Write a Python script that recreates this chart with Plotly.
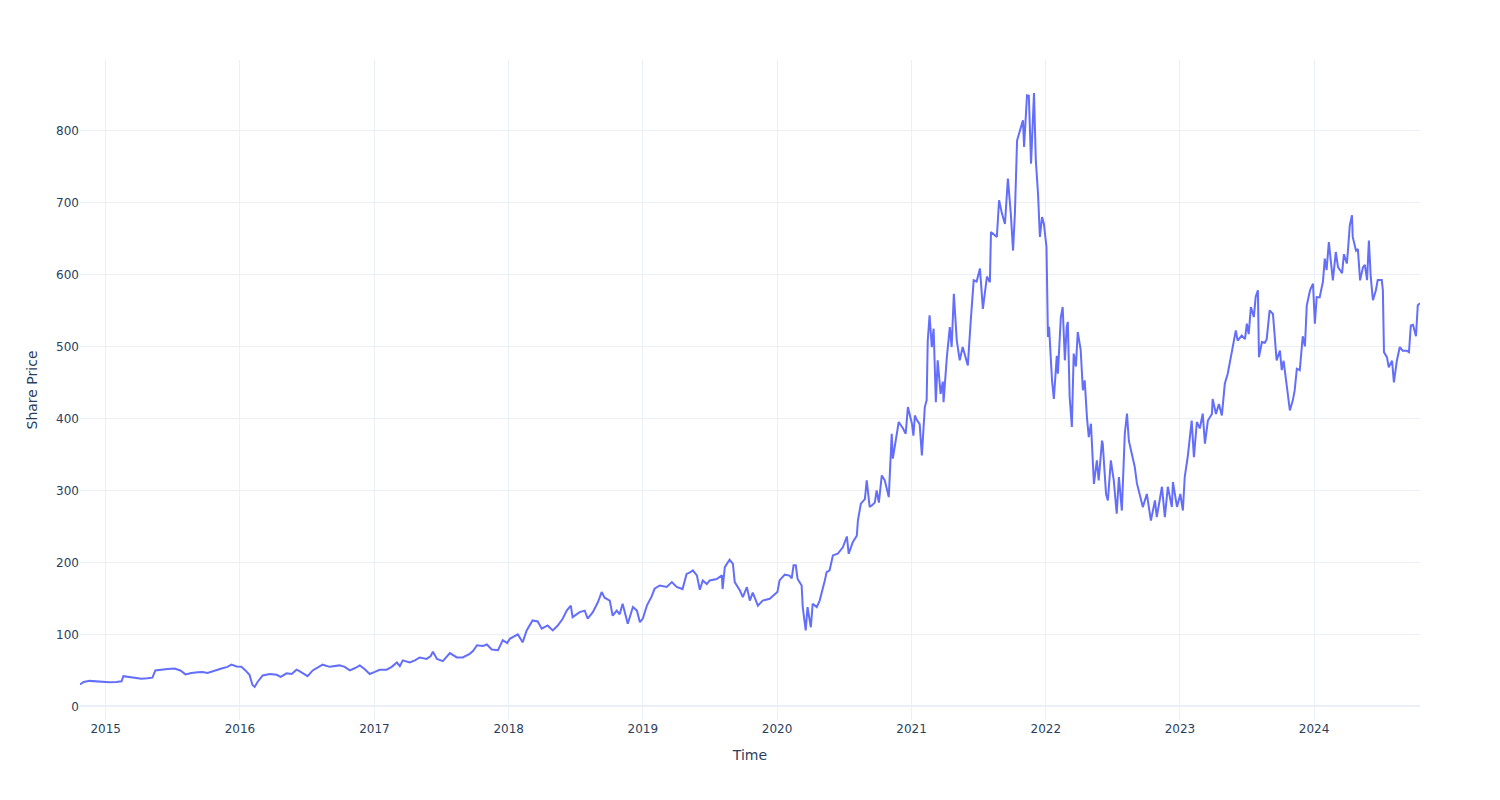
import plotly.graph_objects as go

dates = [
    "2014-10-23", "2014-11-02", "2014-11-18", "2014-12-07", "2014-12-26",
    "2015-01-11", "2015-01-30", "2015-02-13", "2015-02-18", "2015-03-07", "2015-03-23", "2015-04-08",
    "2015-04-24", "2015-05-08", "2015-05-16", "2015-06-02", "2015-06-18", "2015-07-07", "2015-07-23",
    "2015-08-06", "2015-08-22", "2015-09-08", "2015-09-21", "2015-10-05", "2015-10-24", "2015-11-12",
    "2015-11-28", "2015-12-09", "2015-12-23",
    "2016-01-05", "2016-01-16", "2016-01-27", "2016-02-04", "2016-02-10", "2016-02-18", "2016-03-03",
    "2016-03-22", "2016-04-10", "2016-04-21", "2016-05-07", "2016-05-21", "2016-06-03", "2016-06-11",
    "2016-06-22", "2016-07-03", "2016-07-17", "2016-07-31", "2016-08-13", "2016-09-01", "2016-09-15",
    "2016-09-28", "2016-10-12", "2016-10-26", "2016-11-08", "2016-11-22", "2016-12-05", "2016-12-19",
    "2017-01-02", "2017-01-15", "2017-02-03", "2017-02-17", "2017-03-03", "2017-03-11", "2017-03-19",
    "2017-04-07", "2017-04-21", "2017-05-04", "2017-05-23", "2017-06-03", "2017-06-09", "2017-06-20",
    "2017-07-06", "2017-07-25", "2017-08-13", "2017-08-29", "2017-09-17", "2017-09-26", "2017-10-07",
    "2017-10-23", "2017-11-03", "2017-11-16", "2017-12-03", "2017-12-16", "2017-12-28",
    "2018-01-04", "2018-01-26", "2018-02-08", "2018-02-19", "2018-03-07", "2018-03-21", "2018-04-01",
    "2018-04-17", "2018-05-01", "2018-05-14", "2018-05-28", "2018-06-08", "2018-06-19", "2018-06-24",
    "2018-07-13", "2018-07-27", "2018-08-04", "2018-08-18", "2018-09-01", "2018-09-11", "2018-09-19",
    "2018-10-03", "2018-10-11", "2018-10-22", "2018-10-30", "2018-11-07", "2018-11-21", "2018-12-05",
    "2018-12-16", "2018-12-24",
    "2019-01-01", "2019-01-12", "2019-01-25", "2019-02-02", "2019-02-16", "2019-03-07", "2019-03-21",
    "2019-04-03", "2019-04-19", "2019-04-30", "2019-05-09", "2019-05-17", "2019-05-28", "2019-06-05",
    "2019-06-13", "2019-06-24", "2019-07-02", "2019-07-21", "2019-08-04", "2019-08-06", "2019-08-12",
    "2019-08-25", "2019-09-03", "2019-09-08", "2019-09-22", "2019-09-30", "2019-10-11", "2019-10-19",
    "2019-10-27", "2019-11-10", "2019-11-23", "2019-12-12",
    "2020-01-02", "2020-01-08", "2020-01-22", "2020-02-04", "2020-02-10", "2020-02-15", "2020-02-21",
    "2020-02-26", "2020-03-08", "2020-03-11", "2020-03-19", "2020-03-24", "2020-04-02", "2020-04-07",
    "2020-04-18", "2020-04-26", "2020-05-04", "2020-05-10", "2020-05-15", "2020-05-23", "2020-06-01",
    "2020-06-14", "2020-06-28", "2020-07-09", "2020-07-14", "2020-07-25", "2020-08-05", "2020-08-08",
    "2020-08-16", "2020-08-27", "2020-09-01", "2020-09-09", "2020-09-17", "2020-09-23", "2020-09-28",
    "2020-10-04", "2020-10-12", "2020-10-20", "2020-10-31", "2020-11-08", "2020-11-11", "2020-11-19",
    "2020-11-27", "2020-12-08", "2020-12-16", "2020-12-22",
    "2021-01-02", "2021-01-06", "2021-01-10", "2021-01-15", "2021-01-23", "2021-01-29", "2021-02-06",
    "2021-02-11", "2021-02-14", "2021-02-19", "2021-02-25", "2021-03-02", "2021-03-08", "2021-03-13",
    "2021-03-21", "2021-03-27", "2021-03-29", "2021-04-07", "2021-04-15", "2021-04-20", "2021-04-26",
    "2021-05-04", "2021-05-12", "2021-05-20", "2021-06-03", "2021-06-11", "2021-06-19", "2021-06-27",
    "2021-07-06", "2021-07-14", "2021-07-25", "2021-08-02", "2021-08-05", "2021-08-21", "2021-08-27",
    "2021-09-04", "2021-09-12", "2021-09-20", "2021-09-28", "2021-10-04", "2021-10-09", "2021-10-15",
    "2021-10-23", "2021-10-31", "2021-11-03", "2021-11-11", "2021-11-16", "2021-11-22", "2021-11-30",
    "2021-12-05", "2021-12-11", "2021-12-16", "2021-12-22", "2021-12-27",
    "2022-01-03", "2022-01-05", "2022-01-07", "2022-01-10", "2022-01-18", "2022-01-23", "2022-01-31",
    "2022-02-03", "2022-02-11", "2022-02-16", "2022-02-22", "2022-02-27", "2022-03-02", "2022-03-07",
    "2022-03-13", "2022-03-18", "2022-03-24", "2022-03-29", "2022-04-06", "2022-04-12", "2022-04-17",
    "2022-04-23", "2022-04-28", "2022-05-04", "2022-05-09", "2022-05-12", "2022-05-20", "2022-05-25",
    "2022-06-03", "2022-06-05", "2022-06-14", "2022-06-19", "2022-06-27", "2022-07-05", "2022-07-13",
    "2022-07-19", "2022-07-27", "2022-08-04", "2022-08-10", "2022-08-15", "2022-08-23", "2022-08-31",
    "2022-09-06", "2022-09-14", "2022-09-22", "2022-10-03", "2022-10-14", "2022-10-25", "2022-10-30",
    "2022-11-13", "2022-11-21", "2022-11-29", "2022-12-10", "2022-12-13", "2022-12-24",
    "2023-01-02", "2023-01-09", "2023-01-14", "2023-01-22", "2023-02-02", "2023-02-08", "2023-02-16",
    "2023-02-24", "2023-03-04", "2023-03-10", "2023-03-18", "2023-03-29", "2023-03-31", "2023-04-09",
    "2023-04-17", "2023-04-25", "2023-04-28", "2023-05-03", "2023-05-11", "2023-05-19", "2023-05-25",
    "2023-06-02", "2023-06-07", "2023-06-18", "2023-06-27", "2023-07-02", "2023-07-07", "2023-07-13",
    "2023-07-21", "2023-07-26", "2023-08-01", "2023-08-04", "2023-08-12", "2023-08-20", "2023-08-25",
    "2023-09-02", "2023-09-11", "2023-09-16", "2023-09-21", "2023-09-30", "2023-10-05", "2023-10-10",
    "2023-10-16", "2023-10-21", "2023-10-27", "2023-11-04", "2023-11-09", "2023-11-15", "2023-11-23",
    "2023-12-01", "2023-12-07", "2023-12-12", "2023-12-21", "2023-12-29",
    "2024-01-03", "2024-01-08", "2024-01-16", "2024-01-25", "2024-01-30", "2024-02-04", "2024-02-10",
    "2024-02-21", "2024-02-29", "2024-03-06", "2024-03-17", "2024-03-22", "2024-03-30", "2024-04-02",
    "2024-04-07", "2024-04-13", "2024-04-15", "2024-04-24", "2024-04-29", "2024-05-05", "2024-05-13",
    "2024-05-18", "2024-05-24", "2024-05-29", "2024-06-03", "2024-06-09", "2024-06-17", "2024-06-22",
    "2024-07-03", "2024-07-06", "2024-07-09", "2024-07-17", "2024-07-22", "2024-07-31", "2024-08-05",
    "2024-08-13", "2024-08-21", "2024-08-29", "2024-09-09", "2024-09-15", "2024-09-20", "2024-09-26",
    "2024-10-04", "2024-10-09", "2024-10-15",
]

prices = [
    30.5, 34, 35.5, 34.5, 33.5,
    33.5, 34, 35, 42, 41, 39.5, 38.5,
    39, 40, 50, 51.5, 52, 52.7, 50,
    44.5, 46.5, 47.5, 47.7, 46.5, 50, 52.7,
    55, 58, 55.5,
    55, 50, 44, 30, 27, 34, 43,
    45, 44, 41, 46, 45, 51, 49,
    45, 42, 50, 54, 58, 55, 56,
    57, 55, 50, 53, 57, 52, 45,
    48, 51, 51, 55, 61, 56, 64,
    61, 64, 68, 66, 70, 76, 66,
    63, 74, 68, 68, 73, 77, 85,
    84, 86, 79, 78, 92, 88,
    94, 100, 89, 105.6, 119.4, 118, 108,
    112.5, 105.6, 112, 121.8, 133, 140, 124,
    131, 133, 122, 131, 145, 158.8, 151,
    147, 126, 133, 128, 142.6, 114.8, 138,
    133, 117,
    122, 140, 152.8, 163.4, 168, 166, 172.6,
    166, 163, 184, 186, 189, 182, 162,
    175, 170, 175, 177, 182, 163, 193.5,
    203.7, 198, 172.7, 161, 151.8, 165.7, 147,
    158, 140, 147, 149.5,
    158.8, 175, 183, 181.7, 178, 196, 196,
    177, 168, 138, 105.6, 138, 110, 142.6,
    138, 147, 161, 175, 186.6, 189, 209.7,
    212, 221, 236, 212, 228, 237, 258,
    281.5, 288, 314, 277, 280, 283, 300,
    283, 320.8, 314, 290.7, 378.7, 344, 369.4,
    395, 386.6, 378.7, 415.7,
    392.6, 376, 404, 398, 392, 348.6, 415.7,
    425, 508, 543, 499, 524.5, 422.6, 480.5,
    434, 451, 422.6, 485, 526.8, 499, 573,
    508, 480.5, 499, 473.6, 536, 591.7, 590,
    608, 552, 597, 589, 658.8, 651.9, 702.8,
    684, 670, 733, 684, 633, 684, 786,
    800, 814, 776.8, 848.6, 848, 753.7, 851.8,
    758, 712, 652, 679.6, 670,
    638, 591, 513, 527, 452.8, 427, 487,
    462, 540.7, 554.6, 480.6, 527, 534, 429.6,
    388, 490, 472, 520, 495, 439, 452.8,
    401.8, 374, 392.6, 341.7, 309, 341.7, 314,
    369, 365, 295, 286, 341.7, 314, 267.6,
    318.5, 272, 378.7, 406.5, 369, 351, 332.8,
    309.7, 295, 276.8, 295, 258, 286, 263,
    305, 263, 305, 277, 311.6, 277,
    295, 272, 318.5, 346, 397, 346, 395,
    386, 406.5, 365, 397, 406, 427, 406,
    420, 404, 420, 448, 462, 485, 497,
    522, 508, 515, 510, 531.5, 517, 554.6,
    540.7, 568.5, 577.8, 485, 506, 505, 510,
    550, 545, 508, 480.5, 494, 467, 480,
    457.4, 434, 411, 425, 438.4, 469, 467,
    514, 500, 557, 578, 587,
    531.5, 568.5, 568, 590, 621.8, 606, 644.9,
    591.7, 631, 610, 601.5, 628, 615, 632.9,
    668, 682, 652, 632.9, 635, 591.7, 610,
    613, 592, 647, 596, 564, 578, 592,
    592, 578, 492, 485, 471, 480, 450,
    480, 499, 494, 494, 492, 529, 530,
    514, 557, 560,
]

fig = go.Figure()
fig.add_trace(go.Scatter(x=dates, y=prices, mode="lines", name="Share Price",
                         line=dict(color="#636efa", width=2)))
fig.update_layout(
    template="plotly_white",
    width=1500, height=800,
    margin=dict(l=80, r=80, t=60, b=80),
    font=dict(family="DejaVu Sans", color="#2a3f5f"),
    xaxis_title="Time",
    yaxis_title="Share Price",
    showlegend=False,
)
fig.write_html("out.html")
